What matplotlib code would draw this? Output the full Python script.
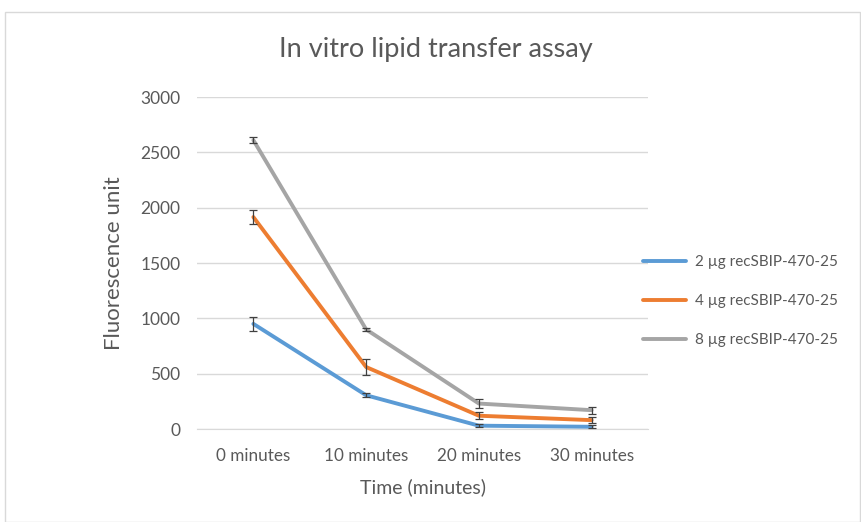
import matplotlib
matplotlib.use("Agg")
import matplotlib.pyplot as plt
from matplotlib.patches import Rectangle

categories = ["0 minutes", "10 minutes", "20 minutes", "30 minutes"]
labels = ["2 µg recSBIP-470-25", "4 µg recSBIP-470-25", "8 µg recSBIP-470-25"]
s2 = [950, 305, 30, 20]
s4 = [1915, 560, 120, 80]
s8 = [2610, 900, 230, 170]
e2 = [60, 20, 15, 15]
e4 = [60, 70, 30, 25]
e8 = [30, 15, 40, 30]
colors = ["#5B9BD5", "#ED7D31", "#A5A5A5"]
yticks = [0, 500, 1000, 1500, 2000, 2500, 3000]

plt.rcParams['font.family'] = ['Lato', 'DejaVu Sans']
txt = "#595959"

fig = plt.figure(figsize=(8.61, 5.22), dpi=100)
fig.patches.append(Rectangle((5/861, 0), 1 - 6/861, 1 - 12/522, transform=fig.transFigure,
                             fill=False, edgecolor="#D9D9D9", linewidth=1))
ax = fig.add_axes([197/861, 1 - 429/522, (648-197)/861, (429-97)/522])
x = list(range(len(categories)))
for vals, errs, c, lab in zip([s2, s4, s8], [e2, e4, e8], colors, labels):
    ax.plot(x, vals, color=c, linewidth=2.8, label=lab, solid_capstyle='round', zorder=3)
    ax.errorbar(x, vals, yerr=errs, fmt='none', ecolor="#404040", elinewidth=0.9,
                capsize=3, capthick=0.9, zorder=4)

ax.set_xlim(-0.5, 3.5)
ax.set_ylim(0, 3000)
ax.set_yticks(yticks)
ax.set_yticklabels([str(v) for v in yticks])
ax.set_xticks(x)
ax.set_xticklabels(categories)
ax.grid(axis='y', color="#D9D9D9", linewidth=1)
ax.set_axisbelow(True)
for sp in ["top", "right", "left"]:
    ax.spines[sp].set_visible(False)
ax.spines["bottom"].set_color("#D9D9D9")
ax.tick_params(axis='both', length=0, colors=txt)
ax.tick_params(axis='y', pad=12, labelsize=12.5)
ax.tick_params(axis='x', pad=14, labelsize=12.3)
ax.set_ylabel("Fluorescence unit", color=txt, fontsize=16, labelpad=12)
ax.set_xlabel("Time (minutes)", color=txt, fontsize=14, labelpad=10)
fig.text(436/861, 1 - 50/522, "In vitro lipid transfer assay", color=txt, fontsize=19.5,
         ha='center', va='center')
leg = ax.legend(loc='center left', bbox_to_anchor=(0.99, 0.385), frameon=False, fontsize=11,
                handlelength=2.8, labelspacing=1.65, handletextpad=0.55, borderpad=0,
                borderaxespad=0)
for t in leg.get_texts():
    t.set_color(txt)
fig.savefig("out.png", dpi=100)
